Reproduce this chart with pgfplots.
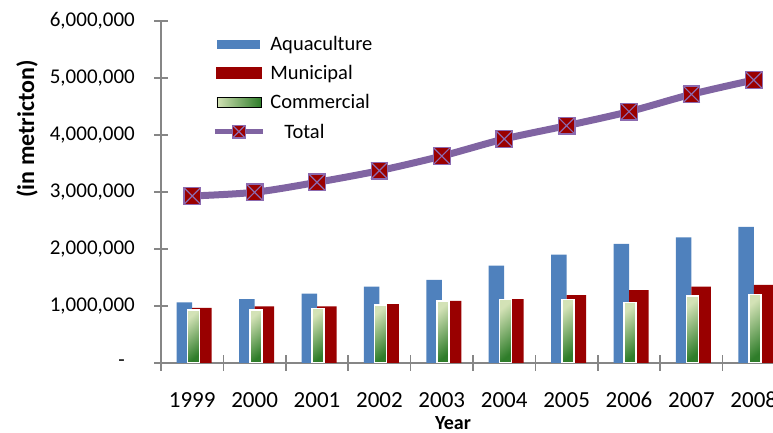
\documentclass[border=0pt]{standalone}
\usepackage{pgfplots}
\pgfplotsset{compat=1.18}
\usepackage{fontspec}
\setmainfont{Carlito}
\definecolor{aqua}{HTML}{4F81BD}
\definecolor{muni}{HTML}{990000}
\definecolor{tot}{HTML}{8064A2}
\definecolor{axgray}{HTML}{868686}
\definecolor{glight}{HTML}{D3E2B6}
\definecolor{gmid}{HTML}{9DBE6E}
\definecolor{gdark}{HTML}{2F7D2A}
\definecolor{mk}{HTML}{9A0000}
\definecolor{mkx}{HTML}{8C6BB0}
\pgfdeclareplotmark{sqx}{%
  \pgfpathrectangle{\pgfqpoint{-\pgfplotmarksize}{-\pgfplotmarksize}}{\pgfqpoint{2\pgfplotmarksize}{2\pgfplotmarksize}}%
  \pgfusepathqfillstroke
  \pgfpathmoveto{\pgfqpoint{-\pgfplotmarksize}{-\pgfplotmarksize}}%
  \pgfpathlineto{\pgfqpoint{\pgfplotmarksize}{\pgfplotmarksize}}%
  \pgfpathmoveto{\pgfqpoint{-\pgfplotmarksize}{\pgfplotmarksize}}%
  \pgfpathlineto{\pgfqpoint{\pgfplotmarksize}{-\pgfplotmarksize}}%
  \pgfusepathqstroke}
\pgfplotsset{gbar/.style={ybar, top color=glight, middle color=gmid, bottom color=gdark, shading angle=40,
  draw=white, line width=1.5bp, bar width=12bp, bar shift=1.2bp, forget plot}}
\begin{document}
\begin{tikzpicture}
\useasboundingbox (0,0) rectangle (773bp,433bp);
\clip (0,0) rectangle (773bp,433bp);
\begin{axis}[
  at={(161bp,70bp)}, anchor=south west,
  scale only axis, width=624bp, height=342bp,
  xmin=-0.5, xmax=9.5, ymin=0, ymax=6000000,
  axis lines*=left,
  axis line style={axgray, line width=1.8bp},
  tick align=center,
  tick style={axgray, line width=1.6bp},
  xtick={0,...,9},
  xticklabels={1999,2000,2001,2002,2003,2004,2005,2006,2007,2008},
  major x tick style={draw=none},
  minor xtick={-0.5,0.5,...,9.5},
  minor tick length=15bp,
  major tick length=14bp,
  ytick={0,1000000,2000000,3000000,4000000,5000000,6000000},
  yticklabels={{-\hspace*{10bp}},{1,000,000},{2,000,000},{3,000,000},{4,000,000},{5,000,000},{6,000,000}},
  scaled y ticks=false,
  /pgf/number format/assume math mode=true,
  xticklabel style={font=\fontsize{23bp}{27bp}\selectfont, anchor=north, inner sep=0pt, yshift=-22bp},
  yticklabel style={font=\fontsize{21bp}{25bp}\selectfont, anchor=east, inner sep=0pt, xshift=-19bp},
  xlabel={Year},
  xlabel style={font=\bfseries\fontsize{20bp}{24bp}\selectfont, at={(axis description cs:0.468,0)}, anchor=center, yshift=-60bp},
  ylabel={(in metricton)},
  ylabel style={font=\bfseries\fontsize{24bp}{28bp}\selectfont, at={(axis description cs:-0.2147,0.684)}, anchor=center},
  legend style={at={(axis description cs:0.082,0.962)}, anchor=north west, draw=none, fill=none,
    font=\fontsize{20.5bp}{24bp}\selectfont, row sep=9.5bp, inner sep=0pt,
    nodes={inner xsep=5bp}},
  legend cell align=left,
]
\addplot[ybar, fill=aqua, draw=none, bar width=15.5bp, bar shift=-7.75bp,
  legend image code/.code={\fill[aqua] (0bp,-4.5bp) rectangle (43bp,4.5bp);}]
  coordinates {(0,1065000) (1,1120000) (2,1216000) (3,1340000) (4,1460000) (5,1710000) (6,1900000) (7,2090000) (8,2205000) (9,2390000)};
\addlegendentry{Aquaculture}
\addplot[ybar, fill=muni, draw=none, bar width=19.5bp, bar shift=9.75bp,
  legend image code/.code={\fill[muni] (-1bp,-6bp) rectangle (45bp,6bp);}]
  coordinates {(0,965000) (1,995000) (2,995000) (3,1035000) (4,1090000) (5,1120000) (6,1190000) (7,1280000) (8,1340000) (9,1370000)};
\addlegendentry{Municipal}
% Commercial: one plot per bar so that each bar carries its own shading
\addplot[gbar] coordinates {(0,930000)};
\addplot[gbar] coordinates {(1,930000)};
\addplot[gbar] coordinates {(2,960000)};
\addplot[gbar] coordinates {(3,1020000)};
\addplot[gbar] coordinates {(4,1088000)};
\addplot[gbar] coordinates {(5,1110000)};
\addplot[gbar] coordinates {(6,1110000)};
\addplot[gbar] coordinates {(7,1060000)};
\addplot[gbar] coordinates {(8,1175000)};
\addplot[gbar] coordinates {(9,1205000)};
\addlegendimage{legend image code/.code={\fill[left color=glight, right color=gdark] (0bp,-5bp) rectangle (44bp,5bp);}}
\addlegendentry{Commercial}
\addplot[tot, line width=7bp, smooth, mark=sqx, mark size=8.3bp,
  mark options={fill=mk, draw=mkx, line width=1.2bp},
  legend image code/.code={\draw[tot, line width=5bp] (-2bp,0bp) -- (46bp,0bp);
    \draw[tot, mark=sqx, mark size=6.3bp, mark options={fill=mk, draw=mkx, line width=1.2bp}] plot coordinates {(22bp,0bp)};}]
  coordinates {(0,2930000) (1,2995000) (2,3170000) (3,3375000) (4,3630000) (5,3930000) (6,4163000) (7,4410000) (8,4714000) (9,4965000)};
\addlegendentry{\hspace*{14bp}Total}
\end{axis}
\end{tikzpicture}
\end{document}
